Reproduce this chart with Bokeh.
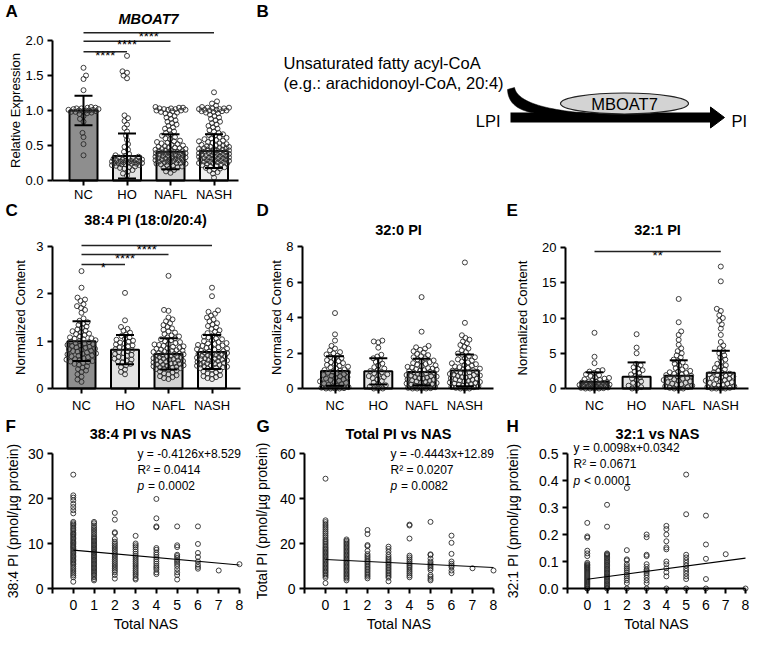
import numpy as np
from bokeh.plotting import figure
from bokeh.models import Range1d, Label, FixedTicker, NumeralTickFormatter
from bokeh.layouts import row, column
from bokeh.embed import file_html
from bokeh.resources import INLINE

FONT = "Liberation Sans"

# ------------------------------------------------------------------ data
CATS = ["NC", "HO", "NAFL", "NASH"]
BAR_COLORS = ["#8e8e8e", "#e3e3e3", "#d3d3d3", "#efefef"]

# Panel A: MBOAT7 relative expression
A_MEAN = [1.00, 0.35, 0.41, 0.42]
A_SD = [0.21, 0.32, 0.25, 0.24]
A_NC = [1.61, 1.50, 1.45, 1.29, 1.05, 1.04, 1.04, 1.03, 1.03, 1.02, 1.02, 1.01, 1.01, 1.00, 1.00, 1.00,
        0.99, 0.99, 0.98, 0.98, 0.97, 0.96, 0.95, 0.92, 0.88, 0.84, 0.68, 0.62, 0.52, 0.36]
A_HO = [1.78, 1.56, 1.54, 1.50, 1.46, 0.93, 0.89, 0.85, 0.80, 0.75, 0.70, 0.64, 0.58, 0.52, 0.48, 0.44,
        0.41, 0.38, 0.36, 0.35, 0.34, 0.33, 0.32, 0.31, 0.31, 0.30, 0.30, 0.29, 0.29, 0.28, 0.28, 0.27,
        0.27, 0.27, 0.26, 0.26, 0.26, 0.25, 0.25, 0.25, 0.24, 0.24, 0.23, 0.23, 0.22, 0.22, 0.21, 0.20,
        0.19, 0.18, 0.17, 0.15, 0.13, 0.10, 0.07]
A_NAFL = [1.05, 1.04, 1.04, 1.03, 1.03, 1.02, 1.02, 1.01, 1.01, 1.00, 1.00, 0.99, 0.98, 0.97, 0.96, 0.94,
          0.92, 0.90, 0.88, 0.86, 0.84, 0.82, 0.80, 0.78, 0.76, 0.74, 0.72, 0.70, 0.68, 0.66, 0.64, 0.62,
          0.60, 0.59, 0.57, 0.56, 0.55, 0.54, 0.53, 0.52, 0.51, 0.50, 0.49, 0.48, 0.47, 0.47, 0.46, 0.45,
          0.45, 0.44, 0.43, 0.43, 0.42, 0.42, 0.41, 0.41, 0.40, 0.40, 0.39, 0.39, 0.38, 0.38, 0.37, 0.37,
          0.36, 0.36, 0.35, 0.35, 0.34, 0.34, 0.33, 0.33, 0.32, 0.32, 0.31, 0.31, 0.30, 0.30, 0.29, 0.29,
          0.28, 0.28, 0.27, 0.27, 0.26, 0.26, 0.25, 0.25, 0.24, 0.24, 0.23, 0.22, 0.21, 0.20, 0.19, 0.18,
          0.17, 0.15, 0.13, 0.11]
A_NASH = [1.26, 1.13, 1.10, 1.07, 1.05, 1.04, 1.04, 1.03, 1.03, 1.02, 1.02, 1.01, 1.01, 1.00, 1.00, 0.99,
          0.99, 0.98, 0.97, 0.96, 0.94, 0.92, 0.90, 0.88, 0.86, 0.84, 0.82, 0.80, 0.78, 0.76, 0.74, 0.72,
          0.70, 0.68, 0.66, 0.65, 0.64, 0.62, 0.61, 0.60, 0.59, 0.58, 0.57, 0.56, 0.55, 0.54, 0.53, 0.52,
          0.51, 0.50, 0.50, 0.49, 0.48, 0.48, 0.47, 0.46, 0.46, 0.45, 0.45, 0.44, 0.44, 0.43, 0.43, 0.42,
          0.42, 0.41, 0.41, 0.40, 0.40, 0.39, 0.39, 0.38, 0.38, 0.37, 0.37, 0.36, 0.36, 0.35, 0.35, 0.34,
          0.34, 0.33, 0.33, 0.32, 0.32, 0.31, 0.31, 0.30, 0.30, 0.29, 0.29, 0.28, 0.28, 0.27, 0.27, 0.26,
          0.26, 0.25, 0.25, 0.24, 0.24, 0.23, 0.22, 0.21, 0.20, 0.19, 0.18, 0.17, 0.16, 0.14, 0.12, 0.10, 0.04]
A_YTICKS = [0, 0.5, 1.0, 1.5, 2.0]
A_SIG_FROM = [0, 0, 0]
A_SIG_TO = [1, 2, 3]
A_SIG_Y = [1.84, 1.99, 2.11]
A_SIG_TXT = ["****", "****", "****"]

# Panel C: 38:4 PI
C_MEAN = [1.00, 0.82, 0.73, 0.77]
C_SD = [0.42, 0.31, 0.33, 0.36]
C_NC = [2.48, 2.13, 1.92, 1.88, 1.85, 1.78, 1.74, 1.70, 1.66, 1.60, 1.48, 1.43, 1.40, 1.37, 1.34, 1.31,
        1.28, 1.25, 1.22, 1.21, 1.19, 1.16, 1.15, 1.13, 1.10, 1.08, 1.06, 1.05, 1.04, 1.02, 1.00, 0.99,
        0.98, 0.96, 0.95, 0.94, 0.92, 0.91, 0.90, 0.88, 0.87, 0.86, 0.84, 0.83, 0.82, 0.80, 0.79, 0.78,
        0.76, 0.74, 0.73, 0.72, 0.70, 0.69, 0.68, 0.66, 0.64, 0.62, 0.61, 0.60, 0.58, 0.57, 0.56, 0.54,
        0.52, 0.50, 0.47, 0.44, 0.41, 0.38, 0.35, 0.30, 0.25, 0.19, 0.14]
C_HO = [2.02, 1.44, 1.30, 1.26, 1.22, 1.18, 1.14, 1.11, 1.08, 1.05, 1.03, 1.01, 0.99, 0.97, 0.95, 0.93,
        0.91, 0.89, 0.87, 0.85, 0.83, 0.81, 0.79, 0.77, 0.75, 0.73, 0.71, 0.69, 0.67, 0.65, 0.63, 0.61,
        0.59, 0.57, 0.55, 0.52, 0.49, 0.45, 0.40, 0.35, 0.30]
C_NAFL = [2.38, 1.66, 1.64, 1.50, 1.46, 1.42, 1.38, 1.34, 1.30, 1.27, 1.24, 1.21, 1.18, 1.15, 1.12, 1.10,
          1.08, 1.06, 1.04, 1.02, 1.00, 0.98, 0.96, 0.94, 0.93, 0.92, 0.90, 0.89, 0.88, 0.86, 0.85, 0.84,
          0.82, 0.81, 0.80, 0.79, 0.78, 0.77, 0.76, 0.75, 0.74, 0.73, 0.72, 0.71, 0.70, 0.69, 0.68, 0.67,
          0.66, 0.65, 0.64, 0.63, 0.62, 0.61, 0.60, 0.59, 0.58, 0.57, 0.56, 0.55, 0.54, 0.53, 0.52, 0.51,
          0.50, 0.49, 0.48, 0.47, 0.46, 0.45, 0.44, 0.43, 0.42, 0.41, 0.40, 0.38, 0.36, 0.34, 0.32, 0.30,
          0.28, 0.26, 0.24, 0.22, 0.20]
C_NASH = [2.13, 1.95, 1.65, 1.62, 1.58, 1.54, 1.50, 1.46, 1.42, 1.38, 1.35, 1.32, 1.29, 1.26, 1.23, 1.20,
          1.17, 1.14, 1.12, 1.10, 1.08, 1.06, 1.04, 1.02, 1.00, 0.98, 0.96, 0.95, 0.94, 0.92, 0.91, 0.90,
          0.88, 0.87, 0.86, 0.84, 0.83, 0.82, 0.80, 0.79, 0.78, 0.77, 0.76, 0.75, 0.74, 0.73, 0.72, 0.71,
          0.70, 0.69, 0.68, 0.67, 0.66, 0.65, 0.64, 0.63, 0.62, 0.61, 0.60, 0.59, 0.58, 0.57, 0.56, 0.55,
          0.54, 0.53, 0.52, 0.51, 0.50, 0.49, 0.48, 0.47, 0.46, 0.45, 0.44, 0.43, 0.42, 0.40, 0.38, 0.36,
          0.34, 0.32, 0.30, 0.28, 0.26, 0.24, 0.22, 0.20]
C_YTICKS = [0, 1, 2, 3]
C_SIG_FROM = [0, 0, 0]
C_SIG_TO = [1, 2, 3]
C_SIG_Y = [2.62, 2.83, 3.02]
C_SIG_TXT = ["*", "****", "****"]

# Panel D: 32:0 PI
D_MEAN = [0.98, 0.97, 0.93, 1.02]
D_SD = [0.83, 0.74, 0.75, 0.89]
D_NC = [4.25, 3.05, 2.70, 2.40, 2.25, 2.15, 2.05, 1.98, 1.92, 1.85, 1.78, 1.72, 1.66, 1.60, 1.54, 1.48,
        1.43, 1.38, 1.33, 1.28, 1.23, 1.18, 1.13, 1.08, 1.04, 1.00, 0.96, 0.92, 0.88, 0.84, 0.80, 0.76,
        0.72, 0.68, 0.64, 0.60, 0.56, 0.52, 0.48, 0.44, 0.40, 0.36, 0.32, 0.28, 0.24, 0.20, 0.16, 0.12,
        0.08, 0.05, 0.02, 0.0, 0.0, 0.0, 0.0]
D_HO = [2.70, 2.65, 2.60, 2.30, 1.90, 1.80, 1.70, 1.60, 1.50, 1.40, 1.30, 1.20, 1.12, 1.05, 0.98, 0.92,
        0.86, 0.80, 0.75, 0.70, 0.64, 0.58, 0.50, 0.42, 0.34, 0.26, 0.18, 0.10, 0.0, 0.0, 0.0]
D_NAFL = [5.15, 3.20, 2.40, 2.32, 2.25, 2.18, 2.10, 2.02, 1.95, 1.88, 1.82, 1.76, 1.70, 1.64, 1.58, 1.53,
          1.48, 1.43, 1.38, 1.34, 1.30, 1.26, 1.22, 1.18, 1.15, 1.12, 1.09, 1.06, 1.03, 1.00, 0.97, 0.94,
          0.91, 0.88, 0.85, 0.82, 0.79, 0.76, 0.73, 0.70, 0.67, 0.64, 0.61, 0.58, 0.55, 0.52, 0.49, 0.46,
          0.43, 0.40, 0.37, 0.34, 0.31, 0.28, 0.25, 0.22, 0.19, 0.16, 0.13, 0.10, 0.07, 0.04, 0.02, 0.0,
          0.0, 0.0, 0.0]
D_NASH = [7.10, 3.70, 3.00, 2.85, 2.75, 2.65, 2.55, 2.45, 2.35, 2.25, 2.15, 2.05, 1.97, 1.90, 1.83, 1.76,
          1.70, 1.64, 1.58, 1.52, 1.47, 1.42, 1.37, 1.32, 1.28, 1.24, 1.20, 1.16, 1.12, 1.08, 1.04, 1.00,
          0.97, 0.94, 0.91, 0.88, 0.85, 0.82, 0.79, 0.76, 0.73, 0.70, 0.67, 0.64, 0.61, 0.58, 0.55, 0.52,
          0.49, 0.46, 0.43, 0.40, 0.37, 0.34, 0.31, 0.28, 0.25, 0.22, 0.19, 0.16, 0.13, 0.10, 0.07, 0.04,
          0.0, 0.0, 0.0]
D_YTICKS = [0, 2, 4, 6, 8]

# Panel E: 32:1 PI
E_MEAN = [0.95, 1.65, 1.80, 2.25]
E_SD = [1.35, 2.05, 2.20, 3.10]
E_NC = [7.9, 4.5, 3.6, 2.6, 2.5, 2.4, 2.2, 2.0, 1.9, 1.8, 1.6, 1.5, 1.4, 1.3, 1.2, 1.1, 1.0, 0.95, 0.9,
        0.85, 0.8, 0.75, 0.7, 0.65, 0.6, 0.55, 0.5, 0.45, 0.4, 0.35, 0.3, 0.25, 0.2, 0.15, 0.1, 0.05,
        0.0, 0.0, 0.0, 0.0]
E_HO = [7.7, 5.8, 5.0, 3.5, 3.3, 3.0, 2.8, 2.6, 2.4, 2.2, 2.0, 1.8, 1.6, 1.4, 1.2, 1.0, 0.8, 0.6, 0.4,
        0.2, 0.0, 0.0]
E_NAFL = [12.7, 9.4, 8.1, 7.6, 6.9, 6.2, 5.7, 5.3, 5.0, 4.7, 4.4, 4.1, 3.9, 3.7, 3.5, 3.3, 3.1, 2.9, 2.7,
          2.5, 2.4, 2.3, 2.2, 2.1, 2.0, 1.9, 1.8, 1.7, 1.6, 1.5, 1.4, 1.3, 1.2, 1.1, 1.0, 0.9, 0.8, 0.7,
          0.6, 0.5, 0.4, 0.3, 0.2, 0.1, 0.0, 0.0, 0.0]
E_NASH = [17.3, 15.2, 11.3, 11.0, 10.4, 10.0, 9.6, 9.1, 8.5, 7.6, 6.6, 6.1, 5.7, 5.3, 5.0, 4.7, 4.4, 4.1,
          3.8, 3.5, 3.3, 3.1, 2.9, 2.7, 2.5, 2.3, 2.2, 2.1, 2.0, 1.9, 1.8, 1.7, 1.6, 1.5, 1.4, 1.3, 1.2,
          1.1, 1.0, 0.9, 0.8, 0.7, 0.6, 0.5, 0.4, 0.3, 0.2, 0.1, 0.0, 0.0, 0.0, 0.0]
E_YTICKS = [0, 5, 10, 15, 20]
E_SIG_FROM = [0]
E_SIG_TO = [3]
E_SIG_Y = [19.43]
E_SIG_TXT = ["**"]

# Panels F-H: values at each Total NAS score
NAS = [0, 1, 2, 3, 4, 5, 6, 7, 8]
NAS_TICKS = [-1, 0, 1, 2, 3, 4, 5, 6, 7, 8]

F_VALS = [
    [25.3, 20.7, 20.2, 19.6, 18.8, 18.1, 17.4, 16.7, 14.8, 14.5, 14.2, 13.9, 13.5, 13.2, 12.9, 12.5, 12.2,
     12.0, 11.7, 11.4, 11.1, 10.8, 10.5, 10.2, 10.0, 9.7, 9.4, 9.2, 8.9, 8.6, 8.3, 8.0, 7.7, 7.4, 7.1, 6.8,
     6.5, 6.2, 5.9, 5.6, 5.3, 4.9, 4.5, 4.1, 3.7, 3.3, 2.9, 2.5, 1.5],
    [14.8, 14.5, 14.0, 13.6, 13.2, 12.8, 12.4, 12.0, 11.6, 11.3, 11.0, 10.7, 10.4, 10.1, 9.8, 9.5, 9.2, 8.9,
     8.6, 8.3, 8.0, 7.7, 7.4, 7.1, 6.8, 6.5, 6.2, 5.9, 5.6, 5.3, 5.0, 4.7, 4.4, 4.1, 3.8, 3.5, 3.2, 2.9,
     2.5, 2.1, 1.8],
    [16.8, 15.3, 12.5, 12.3, 11.0, 10.4, 10.0, 9.6, 9.2, 8.8, 8.4, 8.0, 7.6, 7.2, 6.8, 6.4, 6.0, 5.6, 5.2,
     4.8, 4.4, 4.0, 3.6, 3.0, 2.2],
    [11.7, 10.0, 9.6, 9.2, 8.7, 8.2, 7.7, 7.2, 6.8, 6.4, 6.0, 5.6, 5.2, 4.8, 4.4, 4.0, 3.6, 3.2, 2.8, 2.3, 2.0],
    [19.9, 15.6, 13.8, 13.6, 9.0, 8.6, 8.0, 7.5, 7.0, 6.5, 6.0, 5.5, 5.0, 4.6, 4.2, 3.6, 3.2],
    [13.8, 9.6, 9.2, 7.5, 7.2, 6.8, 6.3, 5.9, 5.5, 5.0, 4.3, 3.6, 3.0, 2.0],
    [13.8, 9.9, 7.9, 7.0, 6.0, 5.3, 4.8, 4.4],
    [4.0],
    [5.4],
]
F_SLOPE, F_INTERCEPT = -0.4126, 8.529
F_STATS = ["y = -0.4126x+8.529", "R\u00b2 = 0.0414", "= 0.0002"]
F_YTICKS = [0, 10, 20, 30]

G_VALS = [
    [48.8, 30.3, 29.5, 28.6, 27.8, 27.0, 26.2, 25.3, 24.5, 23.6, 22.8, 21.9, 21.2, 20.5, 19.8, 19.1, 18.4,
     17.8, 17.2, 16.6, 16.0, 15.4, 14.8, 14.2, 13.6, 13.0, 12.4, 11.8, 11.2, 10.6, 10.0, 9.4, 8.8, 8.2, 7.6,
     7.0, 6.3, 5.6, 4.8, 2.4],
    [21.8, 21.2, 20.6, 20.0, 19.4, 18.8, 18.2, 17.6, 17.0, 16.4, 15.8, 15.2, 14.6, 14.0, 13.4, 12.8, 12.2,
     11.6, 11.0, 10.4, 9.8, 9.2, 8.6, 8.0, 7.4, 6.8, 6.2, 5.6, 5.0, 4.4, 3.6],
    [26.0, 24.2, 19.3, 18.8, 16.7, 15.3, 14.5, 13.8, 13.0, 12.3, 11.6, 10.9, 10.2, 9.5, 8.8, 8.1, 7.4, 6.7,
     6.0, 5.3, 4.5],
    [18.6, 17.6, 16.3, 15.0, 14.0, 13.2, 12.5, 11.8, 11.1, 10.4, 9.7, 9.0, 8.3, 7.6, 6.9, 6.2, 5.5, 4.8, 3.2],
    [28.4, 28.0, 22.2, 14.6, 13.8, 12.9, 12.0, 11.2, 10.5, 9.8, 9.1, 8.3, 7.5, 6.7, 5.8, 5.0],
    [29.6, 15.2, 14.9, 13.3, 12.0, 11.2, 10.5, 9.8, 9.0, 8.2, 6.0, 5.2, 4.3, 3.6],
    [23.5, 20.3, 15.4, 12.0, 11.0, 10.2, 9.5, 8.0, 6.8],
    [9.0],
    [8.0],
]
G_SLOPE, G_INTERCEPT = -0.4443, 12.89
G_STATS = ["y = -0.4443x+12.89", "R\u00b2 = 0.0207", "= 0.0082"]
G_YTICKS = [0, 20, 40, 60]

H_VALS = [
    [0.243, 0.193, 0.188, 0.140, 0.130, 0.120, 0.095, 0.090, 0.087, 0.084, 0.080, 0.077, 0.074, 0.070,
     0.066, 0.062, 0.058, 0.054, 0.050, 0.046, 0.042, 0.038, 0.034, 0.030, 0.026, 0.022, 0.018, 0.014,
     0.010, 0.006, 0.0, 0.0],
    [0.310, 0.229, 0.130, 0.127, 0.124, 0.120, 0.115, 0.110, 0.105, 0.100, 0.095, 0.090, 0.085, 0.080,
     0.075, 0.070, 0.065, 0.060, 0.055, 0.050, 0.045, 0.040, 0.035, 0.030, 0.025, 0.020, 0.015, 0.010,
     0.005, 0.0],
    [0.372, 0.142, 0.108, 0.104, 0.090, 0.082, 0.075, 0.068, 0.060, 0.052, 0.045, 0.038, 0.030, 0.020, 0.0],
    [0.200, 0.190, 0.125, 0.120, 0.090, 0.080, 0.070, 0.065, 0.058, 0.050, 0.040, 0.030, 0.020, 0.0],
    [0.232, 0.220, 0.200, 0.175, 0.152, 0.145, 0.100, 0.090, 0.075, 0.060, 0.045, 0.0],
    [0.422, 0.275, 0.125, 0.115, 0.105, 0.095, 0.085, 0.075, 0.065, 0.055, 0.045, 0.035, 0.0],
    [0.270, 0.163, 0.110, 0.035, 0.0],
    [0.127],
    [0.0],
]
H_SLOPE, H_INTERCEPT = 0.0098, 0.0342
H_STATS = ["y = 0.0098x+0.0342", "R\u00b2 = 0.0671", "< 0.0001"]
H_YTICKS = [0, 0.1, 0.2, 0.3, 0.4, 0.5]

# ------------------------------------------------------------------ helpers
BAR_W_PX = 28
CAP_W_PX = 18
PT_SIZE = 5
PT_COLOR = "#2a2a2a"
PT_LINE_W = 0.9
TITLE_SIZE = 14.5


class Panel:
    """A figure whose frame fills its whole box; screen pixel <-> data helpers."""

    def __init__(self, box, xmap, ymap):
        x0, y0, w, h = box
        self.xmap, self.ymap = xmap, ymap
        self.ax = (xmap[3] - xmap[1]) / (xmap[2] - xmap[0])
        self.ay = (ymap[3] - ymap[1]) / (ymap[2] - ymap[0])
        self.ppu_x, self.ppu_y = abs(self.ax), abs(self.ay)
        p = figure(width=w, height=h, title=None,
                   x_range=Range1d(self.X(x0), self.X(x0 + w)), y_range=Range1d(self.Y(y0 + h), self.Y(y0)),
                   min_border=0, min_border_left=0, min_border_right=0, min_border_top=0, min_border_bottom=0,
                   toolbar_location=None, tools="", output_backend="svg")
        p.frame_align = False
        p.outline_line_color = None
        p.grid.visible = False
        p.background_fill_color = "white"
        p.border_fill_color = "white"
        self.fig = p

    def X(self, px):
        return self.xmap[0] + (px - self.xmap[1]) / self.ax

    def Y(self, py):
        return self.ymap[0] + (py - self.ymap[1]) / self.ay

    def PY(self, v):
        return self.ymap[1] + (v - self.ymap[0]) * self.ay

    def PX(self, v):
        return self.xmap[1] + (v - self.xmap[0]) * self.ax

    def text(self, px, py, s, size, style="normal", align="center", baseline="middle"):
        self.fig.add_layout(Label(x=self.X(px), y=self.Y(py), text=s, text_font=FONT,
                                  text_font_size=f"{size}px", text_font_style=style,
                                  text_align=align, text_baseline=baseline, text_color="black"))


def style_axis(ax, tick_size, label_size, label_standoff, major_standoff=4):
    ax.axis_line_width = 2
    ax.axis_line_color = "black"
    ax.major_tick_line_width = 2
    ax.major_tick_line_color = "black"
    ax.major_tick_out = 5
    ax.major_tick_in = 0
    ax.minor_tick_out = 0
    ax.minor_tick_in = 0
    ax.minor_tick_line_color = None
    ax.major_label_text_font = FONT
    ax.major_label_text_font_size = f"{tick_size}px"
    ax.major_label_text_color = "black"
    ax.major_label_standoff = major_standoff
    ax.axis_label_text_font = FONT
    ax.axis_label_text_font_size = f"{label_size}px"
    ax.axis_label_text_font_style = "normal"
    ax.axis_label_text_color = "black"
    ax.axis_label_standoff = label_standoff


def swarm(vals, ppu_y, ppu_x, d=4.3, maxw=15.0, step=0.5):
    vals = np.asarray(vals, float)
    n = len(vals)
    order = np.argsort(vals, kind="stable")
    grid = np.arange(-maxw, maxw + 1e-9, step)
    pxs, pys = [], []
    off = np.zeros(n)
    for k, i in enumerate(order):
        y = vals[i] * ppu_y
        x = 0.0
        if pxs:
            ax = np.array(pxs)
            ay = np.array(pys)
            m = np.abs(ay - y) < d
            if m.any():
                dist = np.sqrt((grid[:, None] - ax[m][None, :]) ** 2 + (ay[m][None, :] - y) ** 2).min(axis=1)
                ok = dist >= d
                if ok.any():
                    cand = np.where(ok)[0]
                    bias = 1e-3 * ((grid[cand] > 0) if k % 2 else (grid[cand] < 0))
                    x = grid[cand[np.argmin(np.abs(grid[cand]) + bias)]]
                else:
                    x = grid[np.argmax(dist - 1e-4 * np.abs(grid))]
        pxs.append(x)
        pys.append(y)
        off[i] = x / ppu_x
    return off


def setup_axes(P, yaxis_px, xaxis_end_px, yticks, ylabel, ystandoff, tick_size, ylabel_size,
               xticks, xoverrides, xstandoff, xlabel=None, fmt=None, xbounds=None):
    p = P.fig
    xa = p.xaxis[0]
    ya = p.yaxis[0]
    style_axis(xa, tick_size, 14.5, 3, xstandoff)
    style_axis(ya, tick_size, ylabel_size, ystandoff, 4)
    xa.ticker = FixedTicker(ticks=xticks)
    xa.major_label_overrides = xoverrides
    xa.fixed_location = 0
    xa.bounds = xbounds if xbounds else (P.X(yaxis_px), P.X(xaxis_end_px))
    if xlabel:
        xa.axis_label = xlabel
    ya.ticker = FixedTicker(ticks=yticks)
    ya.fixed_location = P.X(yaxis_px)
    ya.bounds = (0, yticks[-1])
    ya.axis_label = ylabel
    if fmt:
        ya.formatter = NumeralTickFormatter(format=fmt)


def bar_panel(P, means, sds, groups, yticks, ylabel, ystandoff, yaxis_px, xaxis_end_px, xstandoff=4,
              fmt=None, sig_from=(), sig_to=(), sig_y=(), sig_txt=()):
    p = P.fig
    xs = list(range(len(CATS)))
    p.vbar(x=xs, top=means, bottom=0, width=BAR_W_PX / P.ppu_x, fill_color=BAR_COLORS,
           line_color="black", line_width=2)
    for i, g in enumerate(groups):
        offs = swarm(g, P.ppu_y, P.ppu_x)
        p.scatter(x=i + offs, y=g, marker="circle", size=PT_SIZE, fill_color=None,
                  line_color=PT_COLOR, line_width=PT_LINE_W)
    hi = [m + s for m, s in zip(means, sds)]
    lo = [max(m - s, 0.0) for m, s in zip(means, sds)]
    p.segment(x0=xs, y0=lo, x1=xs, y1=hi, line_width=2, line_color="black")
    c = CAP_W_PX / P.ppu_x / 2
    p.segment(x0=[x - c for x in xs], y0=hi, x1=[x + c for x in xs], y1=hi, line_width=2, line_color="black")
    lx = [x for x, m, s in zip(xs, means, sds) if m - s > 0]
    ly = [m - s for m, s in zip(means, sds) if m - s > 0]
    p.segment(x0=[x - c for x in lx], y0=ly, x1=[x + c for x in lx], y1=ly, line_width=2, line_color="black")
    if len(sig_from):
        p.segment(x0=list(sig_from), y0=list(sig_y), x1=list(sig_to), y1=list(sig_y),
                  line_width=1.4, line_color="#222222")
        for a, b, y, t in zip(sig_from, sig_to, sig_y, sig_txt):
            P.text(P.PX((a + b) / 2), P.PY(y) + 3.5, t, 13, align="center", baseline="alphabetic")
    setup_axes(P, yaxis_px, xaxis_end_px, yticks, ylabel, ystandoff, 13, 13,
               xs, {i: c for i, c in enumerate(CATS)}, xstandoff, fmt=fmt)


def nas_panel(P, vals, slope, intercept, stats, yticks, ylabel, ystandoff, yaxis_px,
              stat_px, stat_py, fmt=None):
    p = P.fig
    xs, ys = [], []
    for n, v in zip(NAS, vals):
        xs += [n] * len(v)
        ys += v
    p.scatter(x=xs, y=ys, marker="circle", size=PT_SIZE, fill_color=None, line_color=PT_COLOR,
              line_width=PT_LINE_W)
    x0, x1 = min(NAS), max(NAS)
    p.line(x=[x0, x1], y=[intercept + slope * x0, intercept + slope * x1], line_color="black", line_width=1.2)
    setup_axes(P, yaxis_px, None, yticks, ylabel, ystandoff, 14, 14, NAS_TICKS, {-1: ""}, 6,
               xlabel="Total NAS", fmt=fmt, xbounds=(NAS_TICKS[0], NAS_TICKS[-1]))
    P.text(stat_px, stat_py[0], stats[0], 12, align="left")
    P.text(stat_px, stat_py[1], stats[1], 12, align="left")
    P.text(stat_px, stat_py[2], "p", 12, style="italic", align="left")
    P.text(stat_px + 10.5, stat_py[2], stats[2], 12, align="left")


# ------------------------------------------------------------------ panel A
PA = Panel((0, 0, 255, 200), (0, 83, 1, 126.5), (0, 180, 2, 40))
bar_panel(PA, A_MEAN, A_SD, [A_NC, A_HO, A_NAFL, A_NASH], A_YTICKS, "Relative Expression", -1, 52, 238,
          xstandoff=1, fmt="0.0", sig_from=A_SIG_FROM, sig_to=A_SIG_TO, sig_y=A_SIG_Y, sig_txt=A_SIG_TXT)
PA.text(5, 11, "A", 17, style="bold", align="left")
PA.text(148, 18, "MBOAT7", TITLE_SIZE, style="bold italic")

# ------------------------------------------------------------------ panel B (scheme)
pB = figure(width=495, height=200, title=None, x_range=Range1d(255, 750), y_range=Range1d(200, 0),
            x_axis_type=None, y_axis_type=None, min_border=0, min_border_left=0, min_border_right=0,
            min_border_top=0, min_border_bottom=0, toolbar_location=None, tools="", output_backend="svg")
pB.frame_align = False
pB.outline_line_color = None
pB.grid.visible = False
pB.background_fill_color = "white"
pB.border_fill_color = "white"
B_BAR = (510, 712, 112, 122)
B_HEAD = ([710, 724, 710], [106.5, 117, 127.5])
B_ELLIPSE = (624, 103, 128, 21)


def bez(p0, p1, p2, n=30):
    t = np.linspace(0, 1, n)
    x = (1 - t) ** 2 * p0[0] + 2 * (1 - t) * t * p1[0] + t ** 2 * p2[0]
    y = (1 - t) ** 2 * p0[1] + 2 * (1 - t) * t * p1[1] + t ** 2 * p2[1]
    return list(x), list(y)


ox, oy = bez((507, 89), (508, 113), (547, 113.5))
ix, iy = bez((514, 87), (518, 107), (585, 112.5))
pB.patch(x=ox + ix[::-1], y=oy + iy[::-1], fill_color="black", line_color="black", line_width=0.5)
pB.quad(left=B_BAR[0], right=B_BAR[1], top=B_BAR[2], bottom=B_BAR[3], fill_color="black", line_color=None)
pB.patch(x=B_HEAD[0], y=B_HEAD[1], fill_color="black", line_color="black")
pB.ellipse(x=B_ELLIPSE[0], y=B_ELLIPSE[1], width=B_ELLIPSE[2], height=B_ELLIPSE[3],
           fill_color="#d3d3d3", line_color="#222222", line_width=1.2)


def btext(x, y, s, size, style="normal", align="left"):
    pB.add_layout(Label(x=x, y=y, text=s, text_font=FONT, text_font_size=f"{size}px",
                        text_font_style=style, text_align=align, text_baseline="middle", text_color="black"))


btext(256, 11, "B", 17, style="bold")
btext(283, 62, "Unsaturated fatty acyl-CoA", 16.5)
btext(283, 82, "(e.g.: arachidonoyl-CoA, 20:4)", 16.5)
btext(500, 120, "LPI", 16.5, align="right")
btext(731, 120, "PI", 16.5)
btext(624, 103, "MBOAT7", 16.5, align="center")

# ------------------------------------------------------------------ row 2
PC = Panel((0, 200, 255, 216), (0, 81, 1, 124.5), (0, 388, 3, 246))
bar_panel(PC, C_MEAN, C_SD, [C_NC, C_HO, C_NAFL, C_NASH], C_YTICKS, "Normalized Content", 5, 52, 240,
          sig_from=C_SIG_FROM, sig_to=C_SIG_TO, sig_y=C_SIG_Y, sig_txt=C_SIG_TXT)
PC.text(5, 210, "C", 17, style="bold", align="left")
PC.text(145, 219, "38:4 PI (18:0/20:4)", TITLE_SIZE, style="bold")

PD = Panel((255, 200, 250, 216), (0, 334.5, 1, 377.8), (0, 388, 8, 246))
bar_panel(PD, D_MEAN, D_SD, [D_NC, D_HO, D_NAFL, D_NASH], D_YTICKS, "Normalized Content", -1, 302, 493)
PD.text(256, 210, "D", 17, style="bold", align="left")
PD.text(398, 229, "32:0 PI", TITLE_SIZE, style="bold")

PE = Panel((505, 200, 245, 216), (0, 594, 1, 636.1), (0, 388, 20, 247))
bar_panel(PE, E_MEAN, E_SD, [E_NC, E_HO, E_NAFL, E_NASH], E_YTICKS, "Normalized Content", 9, 565, 748,
          sig_from=E_SIG_FROM, sig_to=E_SIG_TO, sig_y=E_SIG_Y, sig_txt=E_SIG_TXT)
PE.text(506, 210, "E", 17, style="bold", align="left")
PE.text(657, 229, "32:1 PI", TITLE_SIZE, style="bold")

# ------------------------------------------------------------------ row 3
PF = Panel((0, 416, 255, 219), (-1, 52, 8, 239), (0, 588, 30, 453))
nas_panel(PF, F_VALS, F_SLOPE, F_INTERCEPT, F_STATS, F_YTICKS, "38:4 PI (pmol/\u00b5g protein)", 4, 52,
          137, (453, 469, 485))
PF.text(5, 426, "F", 17, style="bold", align="left")
PF.text(140, 433, "38:4 PI vs NAS", TITLE_SIZE, style="bold")

PG = Panel((255, 416, 250, 219), (-1, 304, 8, 493), (0, 588, 60, 453))
nas_panel(PG, G_VALS, G_SLOPE, G_INTERCEPT, G_STATS, G_YTICKS, "Total PI (pmol/\u00b5g protein)", 7, 304,
          390, (453, 469, 485))
PG.text(256, 426, "G", 17, style="bold", align="left")
PG.text(398, 433, "Total PI vs NAS", TITLE_SIZE, style="bold")

PH = Panel((505, 416, 245, 219), (-1, 567, 8, 745), (0, 588, 0.5, 453))
nas_panel(PH, H_VALS, H_SLOPE, H_INTERCEPT, H_STATS, H_YTICKS, "32:1 PI (pmol/\u00b5g protein)", 15, 567,
          573, (447, 463, 480), fmt="0.0")
PH.text(506, 426, "H", 17, style="bold", align="left")
PH.text(657, 433, "32:1 vs NAS", TITLE_SIZE, style="bold")

layout = column(row(PA.fig, pB), row(PC.fig, PD.fig, PE.fig), row(PF.fig, PG.fig, PH.fig))
open("out.html", "w").write(file_html(layout, INLINE, title="MBOAT7 PI figure"))
